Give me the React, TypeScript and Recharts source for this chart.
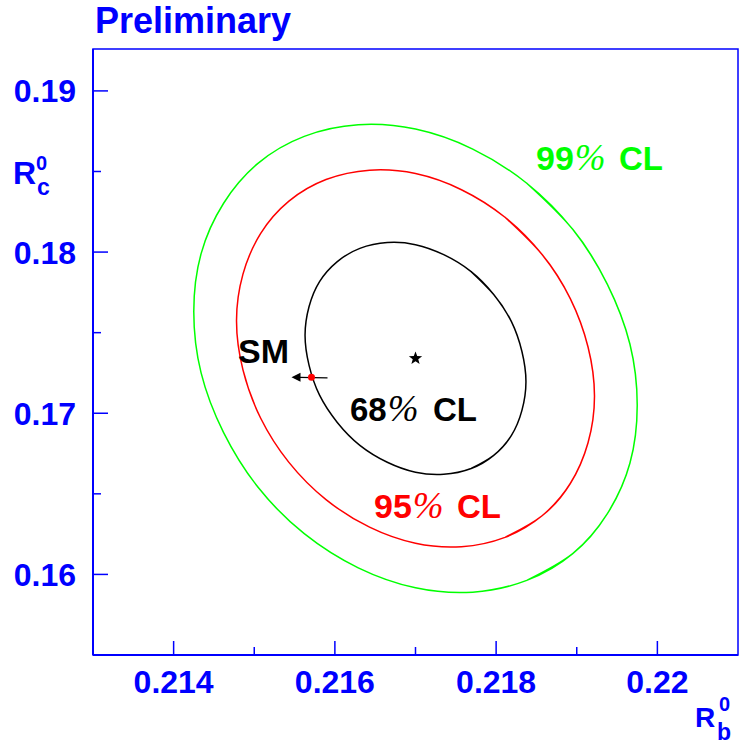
import React from 'react';
import { ComposedChart, Line, XAxis, YAxis, ReferenceArea, ReferenceDot } from 'recharts';

// ---- axis ticks ----
const xTicks = [0.214, 0.215, 0.216, 0.217, 0.218, 0.219, 0.22];
const xMajorTicks = [0.214, 0.216, 0.218, 0.22];
const xTickLabels = ['0.214', '0.216', '0.218', '0.22'];
const yTicks = [0.16, 0.165, 0.17, 0.175, 0.18, 0.185, 0.19];
const yMajorTicks = [0.16, 0.17, 0.18, 0.19];
const yTickLabels = ['0.16', '0.17', '0.18', '0.19'];
const xDomain = [0.213, 0.221];
const yDomain = [0.155, 0.1926];

// ---- contours (Rb, Rc), closed loops ----
const cl99Rb = [0.21975, 0.21966, 0.21938, 0.21895, 0.21838, 0.21771, 0.21700, 0.21629, 0.21562, 0.21505, 0.21462, 0.21434, 0.21425, 0.21434, 0.21462, 0.21505, 0.21562, 0.21629, 0.21700, 0.21771, 0.21838, 0.21895, 0.21938, 0.21966];
const cl99Rc = [0.17050, 0.16691, 0.16377, 0.16129, 0.15963, 0.15890, 0.15917, 0.16041, 0.16253, 0.16539, 0.16880, 0.17252, 0.17630, 0.17989, 0.18303, 0.18552, 0.18718, 0.18790, 0.18763, 0.18639, 0.18427, 0.18141, 0.17800, 0.17428];

const cl95Rb = [0.21922, 0.21914, 0.21892, 0.21857, 0.21811, 0.21757, 0.21700, 0.21643, 0.21589, 0.21543, 0.21508, 0.21486, 0.21478, 0.21486, 0.21508, 0.21543, 0.21589, 0.21643, 0.21700, 0.21757, 0.21811, 0.21857, 0.21892, 0.21914];
const cl95Rc = [0.17106, 0.16817, 0.16564, 0.16364, 0.16230, 0.16172, 0.16193, 0.16293, 0.16464, 0.16695, 0.16969, 0.17269, 0.17574, 0.17863, 0.18116, 0.18316, 0.18450, 0.18508, 0.18487, 0.18387, 0.18216, 0.17985, 0.17711, 0.17411];

const cl68Rb = [0.21837, 0.21832, 0.21819, 0.21797, 0.21769, 0.21735, 0.21700, 0.21665, 0.21631, 0.21603, 0.21581, 0.21568, 0.21563, 0.21568, 0.21581, 0.21603, 0.21631, 0.21665, 0.21700, 0.21735, 0.21769, 0.21797, 0.21819, 0.21832];
const cl68Rc = [0.17196, 0.17018, 0.16863, 0.16739, 0.16657, 0.16621, 0.16634, 0.16696, 0.16801, 0.16943, 0.17112, 0.17297, 0.17484, 0.17662, 0.17817, 0.17941, 0.18023, 0.18059, 0.18046, 0.17984, 0.17879, 0.17737, 0.17568, 0.17383];

// best fit and Standard Model
const fitPoint = { x: 0.2170, y: 0.1734 };
const smPoint = { x: 0.21571, y: 0.17223 };

// closed loop: wrap a few points on each side so the smooth curve has no seam
const toLoop = (xs: number[], ys: number[]) => {
  const pts = xs.map((x, i) => ({ x, y: ys[i] }));
  const k = 4;
  return [...pts.slice(pts.length - k), ...pts, ...pts.slice(0, k + 1)];
};
const cl99 = toLoop(cl99Rb, cl99Rc);
const cl95 = toLoop(cl95Rb, cl95Rc);
const cl68 = toLoop(cl68Rb, cl68Rc);

const W = 739;
const H = 744;
const BLUE = '#0000ff';
const FONT = '"Liberation Sans", Arial, Helvetica, sans-serif';
const SERIF = '"Liberation Serif", "Times New Roman", serif';

const near = (a: number, b: number) => Math.abs(a - b) < 1e-9;

const XTick = (props: any) => {
  const { x, y, payload } = props;
  const i = xMajorTicks.findIndex((v) => near(v, payload.value));
  const major = i >= 0;
  return (
    <g>
      <line x1={x} x2={x} y1={y} y2={y - (major ? 14 : 8)} stroke={BLUE} strokeWidth={1.5} />
      {major && (
        <text x={x} y={y + 38} textAnchor="middle" fontFamily={FONT} fontWeight="bold" fontSize={32} fill={BLUE}>
          {xTickLabels[i]}
        </text>
      )}
    </g>
  );
};

const YTick = (props: any) => {
  const { x, y, payload } = props;
  const i = yMajorTicks.findIndex((v) => near(v, payload.value));
  const major = i >= 0;
  return (
    <g>
      <line x1={x} x2={x + (major ? 15 : 8)} y1={y} y2={y} stroke={BLUE} strokeWidth={1.5} />
      {major && (
        <text x={x - 17} y={y + 11.5} textAnchor="end" fontFamily={FONT} fontWeight="bold" fontSize={32} fill={BLUE}>
          {yTickLabels[i]}
        </text>
      )}
    </g>
  );
};

const StarShape = (props: any) => {
  const { cx, cy } = props;
  const pts: string[] = [];
  for (let k = 0; k < 10; k++) {
    const r = k % 2 === 0 ? 7 : 2.9;
    const a = -Math.PI / 2 + (k * Math.PI) / 5;
    pts.push(`${cx + r * Math.cos(a)},${cy + r * Math.sin(a)}`);
  }
  return <polygon points={pts.join(' ')} fill="#000" />;
};

const SMShape = (props: any) => {
  const { cx, cy } = props;
  return (
    <g>
      <line x1={cx - 12} x2={cx + 16} y1={cy} y2={cy + 0.5} stroke="#000" strokeWidth={1.2} />
      <polygon points={`${cx - 20},${cy} ${cx - 11},${cy - 4.5} ${cx - 11},${cy + 4.5}`} fill="#000" />
      <circle cx={cx} cy={cy} r={3.5} fill="#ff0000" />
    </g>
  );
};

const pct = { fontFamily: SERIF, fontStyle: 'italic', fontWeight: 'normal' as const, fontSize: 37 };
const cl = { fontSize: 33 };

export default function App() {
  return (
    <div style={{ position: 'absolute', left: 0, top: 0, width: W, height: H, background: '#fff' }}>
      <ComposedChart width={W} height={H} margin={{ top: 49, right: 1, bottom: 0, left: 0 }}>
        <XAxis
          type="number"
          dataKey="x"
          domain={xDomain}
          ticks={xTicks}
          interval={0}
          allowDataOverflow
          height={89}
          tickSize={0}
          tickMargin={0}
          tickLine={false}
          axisLine={{ stroke: BLUE, strokeWidth: 2 }}
          tick={(p: any) => <XTick {...p} />}
        />
        <YAxis
          type="number"
          dataKey="y"
          domain={yDomain}
          ticks={yTicks}
          interval={0}
          allowDataOverflow
          width={93}
          tickSize={0}
          tickMargin={0}
          tickLine={false}
          axisLine={{ stroke: BLUE, strokeWidth: 2 }}
          tick={(p: any) => <YTick {...p} />}
        />
        <ReferenceArea
          x1={xDomain[0]}
          x2={xDomain[1]}
          y1={yDomain[0]}
          y2={yDomain[1]}
          fill="none"
          fillOpacity={0}
          stroke={BLUE}
          strokeWidth={1.5}
          ifOverflow="visible"
        />
        <Line data={cl99} dataKey="y" type="natural" stroke="#00ff00" strokeWidth={1.5} dot={false} activeDot={false} isAnimationActive={false} />
        <Line data={cl95} dataKey="y" type="natural" stroke="#ff0000" strokeWidth={1.5} dot={false} activeDot={false} isAnimationActive={false} />
        <Line data={cl68} dataKey="y" type="natural" stroke="#000000" strokeWidth={1.5} dot={false} activeDot={false} isAnimationActive={false} />
        <ReferenceDot x={fitPoint.x} y={fitPoint.y} shape={(p: any) => <StarShape {...p} />} ifOverflow="visible" />
        <ReferenceDot x={smPoint.x} y={smPoint.y} shape={(p: any) => <SMShape {...p} />} ifOverflow="visible" />
      </ComposedChart>
      <svg width={W} height={H} style={{ position: 'absolute', left: 0, top: 0, pointerEvents: 'none' }}>
        <text x={95} y={33} fontFamily={FONT} fontWeight="bold" fontSize={36} fill={BLUE}>Preliminary</text>
        <g fontFamily={FONT} fontWeight="bold" fill={BLUE}>
          <text x={13} y={184} fontSize={32}>R</text>
          <text x={36} y={170} fontSize={20}>0</text>
          <text x={37} y={195} fontSize={23}>c</text>
          <text x={695} y={727} fontSize={28}>R</text>
          <text x={719} y={711} fontSize={20}>0</text>
          <text x={717} y={740} fontSize={23}>b</text>
        </g>
        <text fontFamily={FONT} fontWeight="bold" fontSize={34} fill="#00ff00" y={170}>
          <tspan x={536}>99</tspan>
          <tspan dx={1} {...pct}>%</tspan>
          <tspan x={619} {...cl}>CL</tspan>
        </text>
        <text fontFamily={FONT} fontWeight="bold" fontSize={33} fill="#000000" y={421}>
          <tspan x={350}>68</tspan>
          <tspan dx={1} {...pct}>%</tspan>
          <tspan x={433} {...cl}>CL</tspan>
        </text>
        <text fontFamily={FONT} fontWeight="bold" fontSize={34} fill="#ff0000" y={518}>
          <tspan x={374}>95</tspan>
          <tspan dx={1} {...pct}>%</tspan>
          <tspan x={457} {...cl}>CL</tspan>
        </text>
        <text x={238} y={363} fontFamily={FONT} fontWeight="bold" fontSize={34} fill="#000000">SM</text>
      </svg>
    </div>
  );
}
